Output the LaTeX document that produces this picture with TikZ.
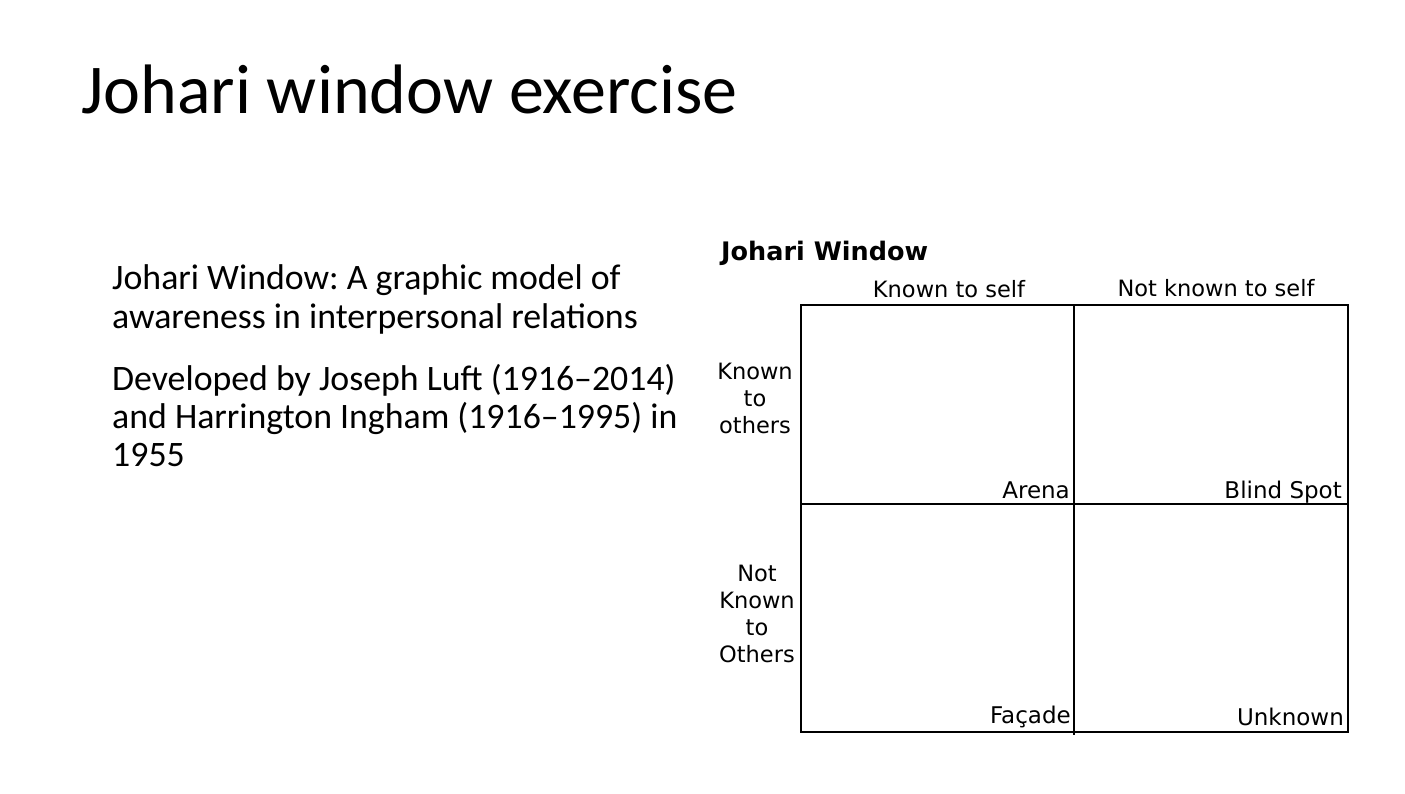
\documentclass[tikz,border=0pt]{standalone}
\usepackage{fontspec}
\setmainfont{Carlito}
\newfontfamily\diagfont{DejaVu Sans}
\usepackage{tikz}
\usetikzlibrary{positioning}
\frenchspacing

\tikzset{
  label/.style={font=\diagfont\fontsize{22.5}{27}\selectfont, inner sep=0pt, align=center},
  cellname/.style={font=\diagfont\fontsize{23}{27}\selectfont, inner sep=0pt, anchor=base east},
}

\begin{document}
\begin{tikzpicture}[x=1pt, y=-1pt]
  \useasboundingbox (0,0) rectangle (1405,793);

  % Slide text
  \node[anchor=base west, inner sep=0pt, font=\fontsize{70}{84}\selectfont] (title) at (81,113) {Johari window exercise};
  \node[anchor=base west, inner sep=0pt, align=left, font=\fontsize{35.8}{39}\selectfont] (intro) at (112,328)
    {Johari Window: A graphic model of\\awareness in interpersonal relations};
  \node[anchor=base west, inner sep=0pt, align=left, font=\fontsize{35.8}{38}\selectfont] (history) at (112,466)
    {Developed by Joseph Luft (1916--2014)\\and Harrington Ingham (1916--1995) in\\1955};

  % Window grid
  \coordinate (tl) at (801,305);
  \coordinate (br) at (1348,732);
  \coordinate (tm) at (1074,305);
  \coordinate (bm) at (1074,735);
  \coordinate (ml) at (801,504);
  \coordinate (mr) at (1348,504);
  \draw[line width=1.2pt] (tl) rectangle (br);
  \draw[line width=1.2pt] (tm) -- (bm);
  \draw[line width=1.2pt] (ml) -- (mr);

  % Headings
  \node[anchor=base west, inner sep=0pt, font=\diagfont\bfseries\fontsize{25.5}{30}\selectfont] (wtitle) at (721,260) {Johari Window};
  \node[label, anchor=base] (self) at (949,297) {Known to self};
  \node[label, anchor=base] (notself) at (1216,296) {Not known to self};
  \node[label] (others) at (755,398) {Known\\to\\others};
  \node[label] (notothers) at (757,614) {Not\\Known\\to\\Others};

  % Quadrants
  \node[cellname] (arena) at (1070,498) {Arena};
  \node[cellname] (blind) at (1342,498) {Blind Spot};
  \node[cellname] (facade) at (1071,723) {Façade};
  \node[cellname] (unknown) at (1344,725) {Unknown};
\end{tikzpicture}
\end{document}
